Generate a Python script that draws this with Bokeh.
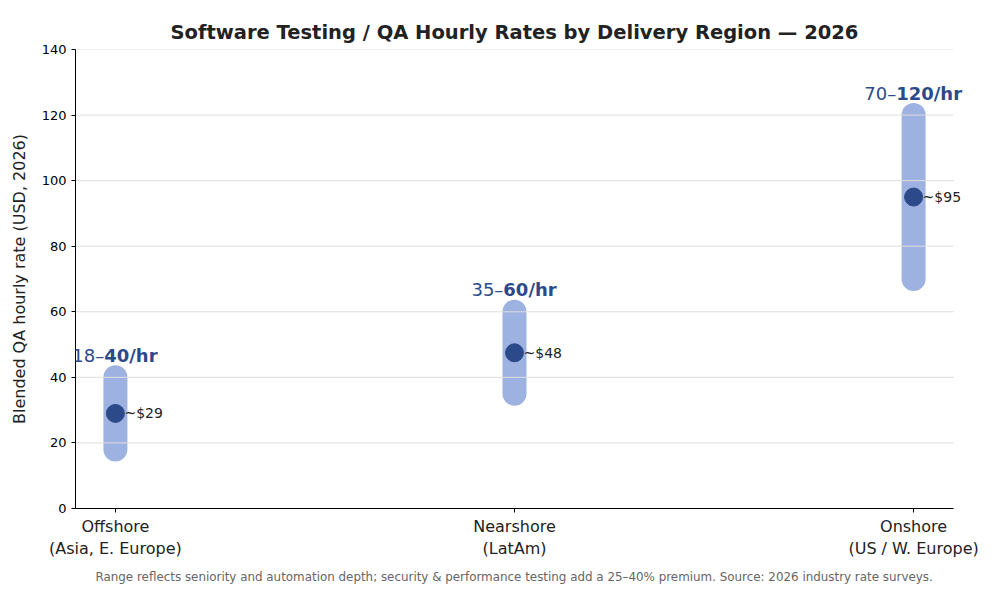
from bokeh.plotting import figure
from bokeh.models import ColumnDataSource, Label, FixedTicker, Range1d, Title
from bokeh.embed import file_html
from bokeh.resources import INLINE

regions = ["Offshore\n(Asia, E. Europe)", "Nearshore\n(LatAm)", "Onshore\n(US / W. Europe)"]
low = [18, 35, 70]
high = [40, 60, 120]
mid = [29, 47.5, 95]
mid_labels = ["~$29", "~$48", "~$95"]
y_ticks = [0, 20, 40, 60, 80, 100, 120, 140]
title_text = "Software Testing / QA Hourly Rates by Delivery Region \u2014 2026"
footer_text = ("Range reflects seniority and automation depth; security & performance testing "
               "add a 25\u201340% premium.  Source: 2026 industry rate surveys.")

FONT = "DejaVu Sans"
BAR = "#9db2e0"
DARK = "#2c4a8a"
xs = list(range(len(regions)))

X0, X1 = -0.1, 2.1          # visible axis extent
FRAME_W, AXIS_W = 925, 878  # frame extends to the right edge so labels are not clipped
x_end = X0 + (X1 - X0) * FRAME_W / AXIS_W

p = figure(width=1000, height=600, output_backend="svg", toolbar_location=None,
           x_range=Range1d(X0, x_end), y_range=Range1d(0, 140),
           min_border_left=75, min_border_right=0, min_border_top=49, min_border_bottom=92)
p.outline_line_color = None
p.background_fill_color = "white"

p.title.text = title_text
p.title.align = "left"
p.title.offset = 95
p.title.vertical_align = "middle"
p.title.text_font = FONT
p.title.text_font_size = "19.5px"
p.title.text_font_style = "bold"
p.title.text_color = "#222222"
p.title.standoff = 10

p.add_layout(Title(text=footer_text, align="left", offset=20, text_font=FONT,
                   text_font_size="11.9px", text_font_style="normal",
                   text_color="#666666", standoff=12), "below")

# axes
p.xaxis.ticker = FixedTicker(ticks=xs)
p.xaxis.bounds = (X0, X1)
p.xaxis.major_label_overrides = {i: r for i, r in enumerate(regions)}
p.xaxis.major_label_text_font = FONT
p.xaxis.major_label_text_font_size = "16px"
p.xaxis.major_label_text_color = "#222222"
p.xaxis.minor_tick_line_color = None
p.xaxis.major_tick_in = 0
p.xaxis.major_tick_out = 4
p.xaxis.axis_line_color = "black"
p.xaxis.major_label_standoff = 4

p.yaxis.ticker = FixedTicker(ticks=y_ticks)
p.yaxis.axis_label = "Blended QA hourly rate (USD, 2026)"
p.yaxis.axis_label_text_font = FONT
p.yaxis.axis_label_text_font_size = "16px"
p.yaxis.axis_label_text_font_style = "normal"
p.yaxis.axis_label_text_color = "#222222"
p.yaxis.axis_label_standoff = 10
p.yaxis.major_label_text_font = FONT
p.yaxis.major_label_text_font_size = "13px"
p.yaxis.major_label_text_color = "black"
p.yaxis.minor_tick_line_color = None
p.yaxis.major_tick_in = 0
p.yaxis.major_tick_out = 4
p.yaxis.axis_line_color = "black"

p.xgrid.grid_line_color = None
p.ygrid.grid_line_color = None

src = ColumnDataSource(dict(x=xs, low=low, high=high, mid=mid))
p.segment(x0="x", y0="low", x1="x", y1="high", source=src, line_width=24,
          line_color=BAR, line_cap="round")

# horizontal grid lines (drawn above the bars, limited to the axis extent)
gy = y_ticks[1:]
p.segment(x0=[X0] * len(gy), x1=[X1] * len(gy), y0=gy, y1=gy,
          line_color="#dedede", line_width=1)

p.scatter(x="x", y="mid", source=src, size=18, fill_color=DARK, line_color=DARK)

FS = 18
for x, lo, hi, m, ml in zip(xs, low, high, mid, mid_labels):
    p.add_layout(Label(x=x, y=m, text=ml, x_offset=9, text_align="left",
                       text_baseline="middle", text_font=FONT, text_font_size="14px",
                       text_color="#222222"))
    # split range label: "lo–" normal + "hi/hr" bold
    n = f"{lo}\u2013"
    b = f"{hi}/hr"
    wn = (0.636 * len(str(lo)) + 0.45) * FS
    wb = (0.696 * len(str(hi)) + 1.57) * FS
    off = -(wn + wb) / 2 + wn
    p.add_layout(Label(x=x, y=hi, text=n, x_offset=off, y_offset=22, text_align="right",
                       text_baseline="middle", text_font=FONT, text_font_size=f"{FS}px",
                       text_color=DARK))
    p.add_layout(Label(x=x, y=hi, text=b, x_offset=off, y_offset=22, text_align="left",
                       text_baseline="middle", text_font=FONT, text_font_size=f"{FS}px",
                       text_font_style="bold", text_color=DARK))

open("out.html", "w").write(file_html(p, INLINE))
